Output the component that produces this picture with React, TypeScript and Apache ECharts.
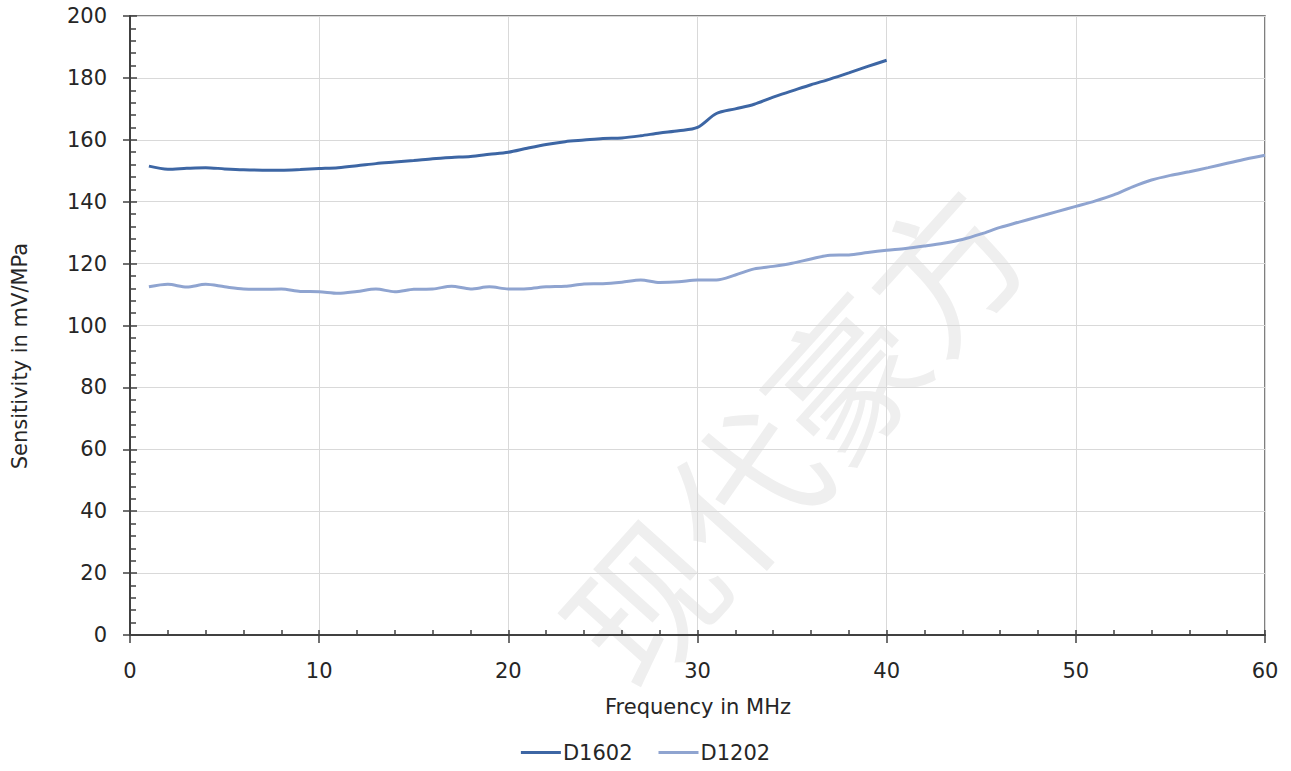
import React, { useEffect, useRef } from "react";
import * as echarts from "echarts";

const FREQ_D1602 = [1,2,3,4,5,6,7,8,9,10,11,12,13,14,15,16,17,18,19,20,21,22,23,24,25,26,27,28,29,30,31,32,33,34,35,36,37,38,39,40];
const VAL_D1602 = [151.5,150.5,150.8,151.0,150.6,150.3,150.2,150.2,150.4,150.7,151.0,151.6,152.3,152.8,153.3,153.9,154.3,154.6,155.3,156.0,157.3,158.5,159.4,159.9,160.4,160.6,161.3,162.2,162.9,164.0,168.5,170.0,171.5,173.8,175.8,177.8,179.6,181.6,183.7,185.7];

const FREQ_D1202 = [1,2,3,4,5,6,7,8,9,10,11,12,13,14,15,16,17,18,19,20,21,22,23,24,25,26,27,28,29,30,31,32,33,34,35,36,37,38,39,40,41,42,43,44,45,46,47,48,49,50,51,52,53,54,55,56,57,58,59,60];
const VAL_D1202 = [112.5,113.3,112.4,113.3,112.5,111.8,111.7,111.8,111.0,110.9,110.4,111.0,111.8,110.9,111.7,111.8,112.7,111.8,112.5,111.8,111.9,112.5,112.7,113.4,113.5,114.0,114.7,113.9,114.1,114.7,114.7,116.3,118.3,119.1,120.1,121.5,122.7,122.8,123.6,124.3,124.9,125.7,126.6,127.8,129.6,131.7,133.4,135.1,136.8,138.5,140.2,142.2,144.8,147.0,148.5,149.7,151.0,152.4,153.8,155.0];

const SERIES_NAMES = ["D1602", "D1202"];
const X_TITLE = "Frequency in MHz";
const Y_TITLE = "Sensitivity in mV/MPa";
const WATERMARK = "现代豪方";

const FONT = "'DejaVu Sans', 'Noto Sans', sans-serif";
const AXIS_COLOR = "#404040";
const TEXT_COLOR = "#262626";

export default function App() {
  const ref = useRef<HTMLDivElement>(null);
  useEffect(() => {
    document.body.style.margin = "0";
    if (!ref.current) return;
    const chart = echarts.init(ref.current, undefined, { renderer: "svg" });
    const labelStyle = { color: TEXT_COLOR, fontSize: 21, fontFamily: FONT };
    chart.setOption({
      animation: false,
      backgroundColor: "#ffffff",
      grid: {
        left: 130,
        right: 26,
        top: 16,
        bottom: 136,
        show: true,
        borderColor: "#555555",
        borderWidth: 1.5,
        backgroundColor: "transparent",
      },
      xAxis: [
        {
          type: "value",
          min: 0,
          max: 60,
          interval: 10,
          axisLine: { show: true, lineStyle: { color: AXIS_COLOR, width: 2 } },
          axisTick: { show: true, inside: false, length: 8, lineStyle: { color: AXIS_COLOR, width: 1.5 } },
          axisLabel: { ...labelStyle, margin: 25 },
          splitLine: { show: true, lineStyle: { color: "#d9d9d9", width: 1 } },
        },
        {
          type: "value",
          min: 0,
          max: 60,
          interval: 10,
          position: "bottom",
          axisLine: { show: false },
          axisTick: { show: true, inside: true, length: 5, lineStyle: { color: AXIS_COLOR, width: 1.5 } },
          minorTick: { show: true, splitNumber: 5, length: 5, lineStyle: { color: AXIS_COLOR, width: 1.5 } },
          axisLabel: { show: false },
          splitLine: { show: false },
        },
      ],
      yAxis: [
        {
          type: "value",
          min: 0,
          max: 200,
          interval: 20,
          axisLine: { show: true, lineStyle: { color: AXIS_COLOR, width: 2 } },
          axisTick: { show: true, inside: false, length: 7, lineStyle: { color: AXIS_COLOR, width: 1.5 } },
          axisLabel: { ...labelStyle, margin: 23 },
          splitLine: { show: true, lineStyle: { color: "#d9d9d9", width: 1 } },
        },
        {
          type: "value",
          min: 0,
          max: 200,
          interval: 20,
          position: "left",
          axisLine: { show: false },
          axisTick: { show: true, inside: true, length: 7, lineStyle: { color: AXIS_COLOR, width: 1.5 } },
          minorTick: { show: true, splitNumber: 5, length: 6, lineStyle: { color: AXIS_COLOR, width: 1.5 } },
          axisLabel: { show: false },
          splitLine: { show: false },
        },
      ],
      legend: {
        bottom: 3,
        left: "center",
        itemGap: 26,
        itemWidth: 40,
        itemHeight: 3,
        icon: "rect",
        textStyle: { color: TEXT_COLOR, fontSize: 21, fontFamily: FONT, padding: [0, 0, 0, -3] },
        data: SERIES_NAMES,
      },
      graphic: [
        {
          type: "text",
          z: 0,
          silent: true,
          x: 790,
          y: 430,
          rotation: (48 * Math.PI) / 180,
          style: {
            text: WATERMARK,
            fontSize: 150,
            fontFamily: "'Noto Sans CJK SC', sans-serif",
            fill: "#efefef",
            align: "center",
            verticalAlign: "middle",
          },
        },
        {
          type: "text",
          x: 698,
          y: 707,
          style: {
            text: X_TITLE,
            fontSize: 21,
            fontFamily: FONT,
            fill: TEXT_COLOR,
            align: "center",
            verticalAlign: "middle",
          },
        },
        {
          type: "text",
          x: 20,
          y: 356,
          rotation: Math.PI / 2,
          style: {
            text: Y_TITLE,
            fontSize: 21,
            fontFamily: FONT,
            fill: TEXT_COLOR,
            align: "center",
            verticalAlign: "middle",
          },
        },
      ],
      series: [
        {
          name: SERIES_NAMES[0],
          type: "line",
          xAxisIndex: 0,
          yAxisIndex: 0,
          smooth: 0.3,
          showSymbol: false,
          symbol: "none",
          lineStyle: { color: "#3d66a4", width: 3 },
          itemStyle: { color: "#3d66a4" },
          data: FREQ_D1602.map((f, i) => [f, VAL_D1602[i]]),
        },
        {
          name: SERIES_NAMES[1],
          type: "line",
          xAxisIndex: 0,
          yAxisIndex: 0,
          smooth: 0.3,
          showSymbol: false,
          symbol: "none",
          lineStyle: { color: "#8fa4d0", width: 3 },
          itemStyle: { color: "#8fa4d0" },
          data: FREQ_D1202.map((f, i) => [f, VAL_D1202[i]]),
        },
      ],
    });
    return () => chart.dispose();
  }, []);
  return <div ref={ref} style={{ width: 1291, height: 771 }} />;
}
